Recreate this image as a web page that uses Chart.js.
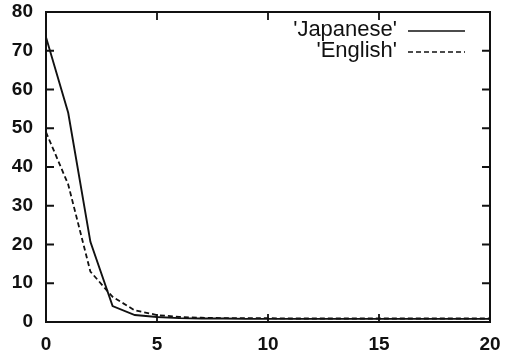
<!DOCTYPE html>
<html>
<head>
<meta charset="utf-8">
<script src="https://cdn.jsdelivr.net/npm/chart.js@4/dist/chart.umd.min.js"></script>
<style>
  html, body { margin: 0; padding: 0; background: #fff; }
  #wrap { width: 509px; height: 355px; }
</style>
</head>
<body>
<div id="wrap"><canvas id="c"></canvas></div>
<script>
var xValues = [0, 1, 2, 3, 4, 5, 6, 7, 8, 9, 10, 11, 12, 13, 14, 15, 16, 17, 18, 19, 20];
var japanese = [73.5, 54, 20.7, 4.1, 1.8, 1.3, 1.0, 0.9, 0.9, 0.8, 0.8, 0.8, 0.8, 0.8, 0.8, 0.8, 0.8, 0.8, 0.8, 0.8, 0.8];
var english = [49, 35.5, 13, 6.5, 3.0, 1.8, 1.3, 1.1, 1.0, 1.0, 1.0, 0.9, 0.9, 0.9, 0.9, 0.9, 0.9, 0.9, 0.9, 0.9, 0.9];
var seriesNames = ["'Japanese'", "'English'"];
var xTicks = [0, 5, 10, 15, 20];
var yTicks = [0, 10, 20, 30, 40, 50, 60, 70, 80];

function toPoints(ys) {
    return xValues.map(function (x, i) { return { x: x, y: ys[i] }; });
}

var FONT = '"Liberation Sans", Arial, Helvetica, sans-serif';

// gnuplot style frame: box, inward ticks on all four sides, key top right
var gnuplotFrame = {
    id: 'gnuplotFrame',
    afterDraw: function (chart) {
        var ctx = chart.ctx;
        var a = chart.chartArea;
        var xs = chart.scales.x, ys = chart.scales.y;
        ctx.save();
        ctx.strokeStyle = '#111';
        ctx.lineWidth = 2;
        ctx.strokeRect(a.left, a.top, a.right - a.left, a.bottom - a.top);
        ctx.lineWidth = 1.8;
        var t = 8;
        ctx.beginPath();
        yTicks.forEach(function (v) {
            var py = ys.getPixelForValue(v);
            ctx.moveTo(a.left, py); ctx.lineTo(a.left + t, py);
            ctx.moveTo(a.right, py); ctx.lineTo(a.right - t, py);
        });
        xTicks.forEach(function (v) {
            var px = xs.getPixelForValue(v);
            ctx.moveTo(px, a.bottom); ctx.lineTo(px, a.bottom - t);
            ctx.moveTo(px, a.top); ctx.lineTo(px, a.top + t);
        });
        ctx.stroke();

        // key
        ctx.font = '22px ' + FONT;
        ctx.fillStyle = '#111';
        ctx.textAlign = 'right';
        ctx.textBaseline = 'alphabetic';
        var keyY = [36, 57];
        var lineY = [31, 52];
        chart.data.datasets.forEach(function (ds, i) {
            ctx.fillText(ds.label, 397, keyY[i]);
            ctx.beginPath();
            ctx.lineWidth = 1.5;
            ctx.setLineDash(ds.borderDash || []);
            ctx.moveTo(408, lineY[i]);
            ctx.lineTo(465, lineY[i]);
            ctx.stroke();
            ctx.setLineDash([]);
        });
        ctx.restore();
    }
};

new Chart(document.getElementById('c'), {
    type: 'line',
    data: {
        datasets: [{
            label: seriesNames[0],
            data: toPoints(japanese),
            borderColor: '#111',
            borderWidth: 1.9,
            pointRadius: 0,
            tension: 0,
            fill: false
        }, {
            label: seriesNames[1],
            data: toPoints(english),
            borderColor: '#111',
            borderWidth: 1.8,
            borderDash: [5, 3],
            pointRadius: 0,
            tension: 0,
            fill: false
        }]
    },
    options: {
        responsive: true,
        maintainAspectRatio: false,
        animation: false,
        layout: { padding: { left: 0, right: 19, top: 12, bottom: 0 } },
        plugins: {
            legend: { display: false },
            tooltip: { enabled: false }
        },
        scales: {
            x: {
                type: 'linear',
                min: 0,
                max: 20,
                afterBuildTicks: function (s) { s.ticks = xTicks.map(function (v) { return { value: v }; }); },
                afterFit: function (s) { s.height = 33; s.paddingLeft = 0; s.paddingRight = 0; },
                grid: { display: false, drawTicks: false },
                border: { display: false },
                ticks: {
                    padding: 11,
                    color: '#111',
                    font: { family: FONT, size: 19, weight: 'bold' },
                    maxRotation: 0
                }
            },
            y: {
                min: 0,
                max: 80,
                afterBuildTicks: function (s) { s.ticks = yTicks.map(function (v) { return { value: v }; }); },
                afterFit: function (s) { s.width = 46; s.paddingTop = 0; s.paddingBottom = 0; },
                grid: { display: false, drawTicks: false },
                border: { display: false },
                ticks: {
                    padding: 13,
                    color: '#111',
                    font: { family: FONT, size: 19, weight: 'bold' }
                }
            }
        }
    },
    plugins: [gnuplotFrame]
});
</script>
</body>
</html>
